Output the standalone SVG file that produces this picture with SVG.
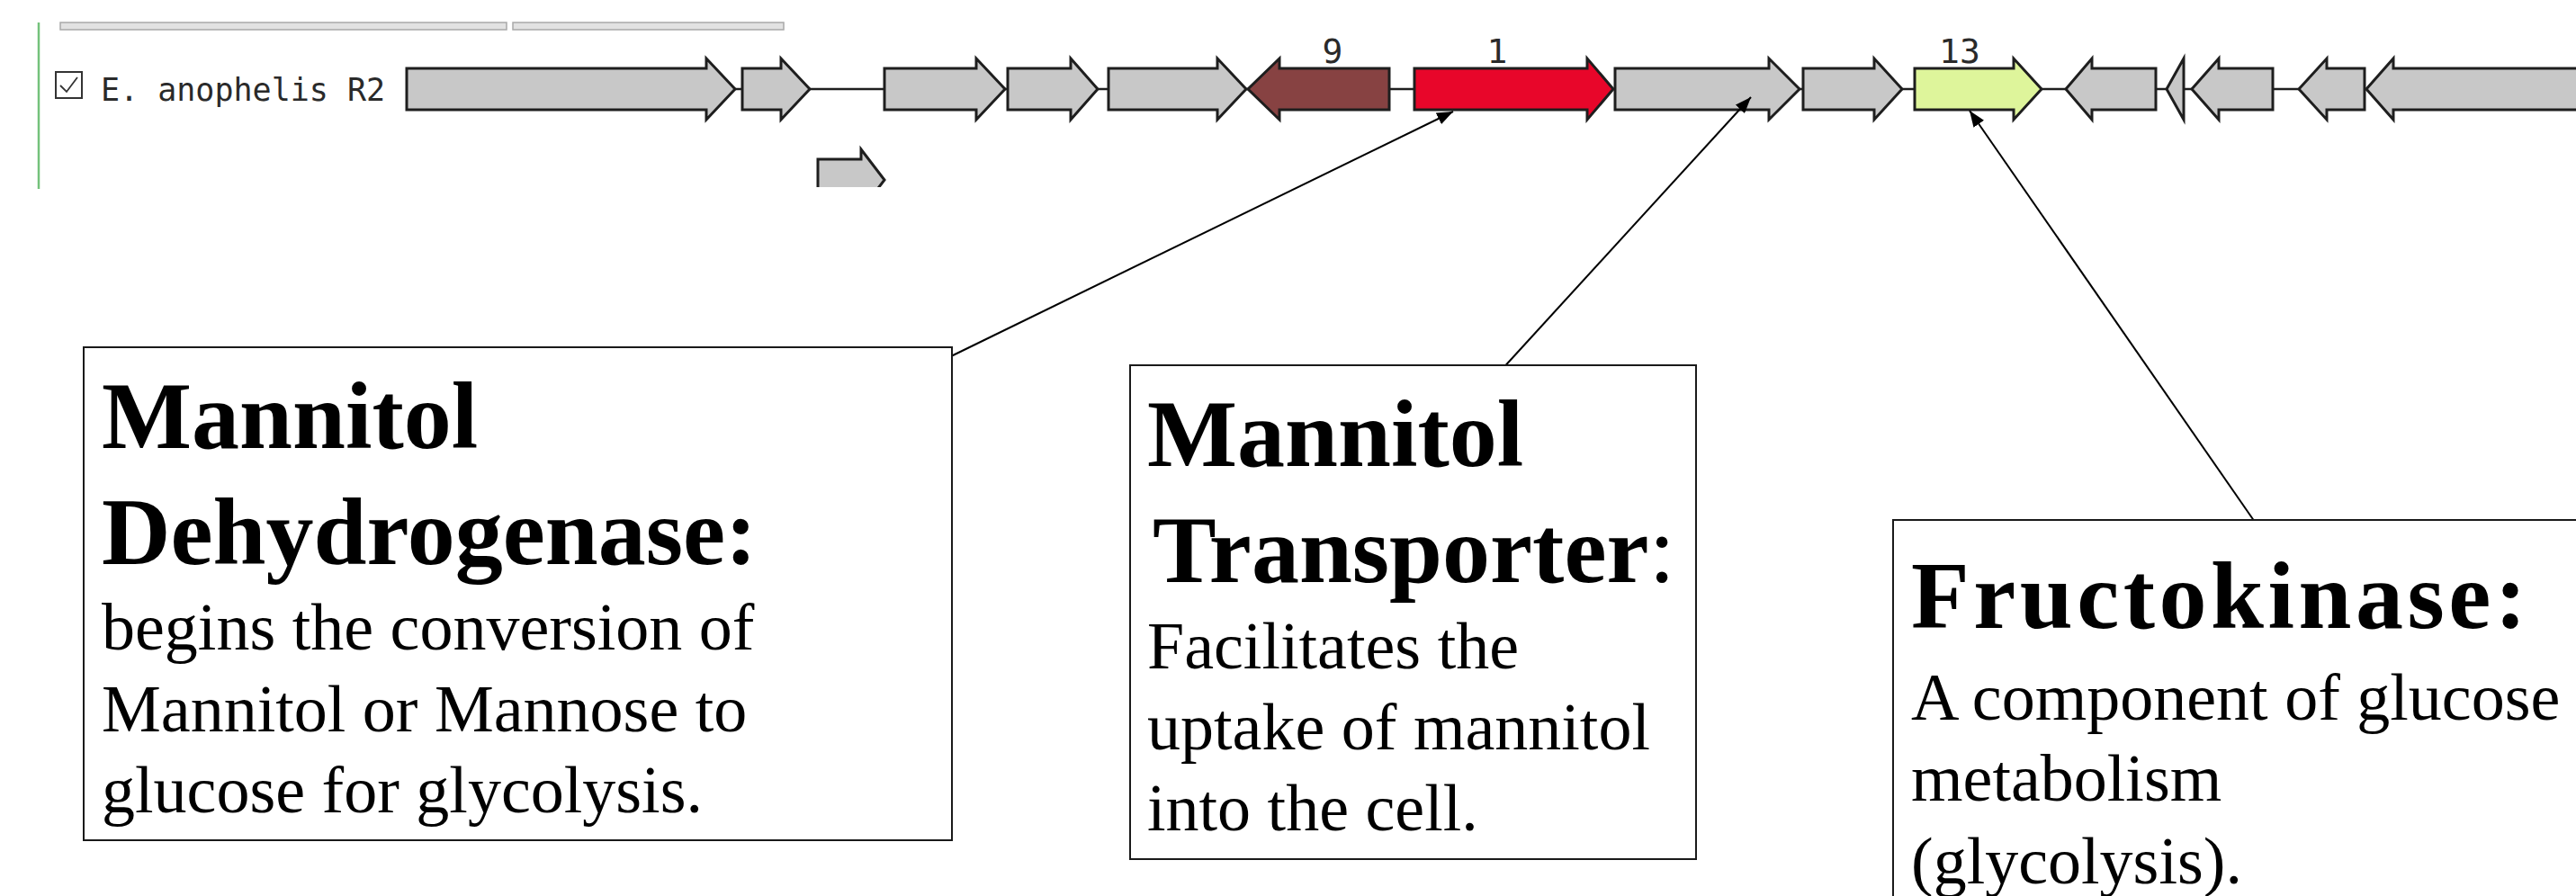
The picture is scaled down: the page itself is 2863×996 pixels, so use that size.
<svg xmlns="http://www.w3.org/2000/svg" width="2863" height="996" viewBox="0 0 2863 996">
  <style>
    .gene { stroke: #1e1e1e; stroke-width: 3; stroke-linejoin: miter; }
    .grey { fill: #c8c8c8; }
    .mono { font-family: "DejaVu Sans Mono", "Liberation Mono", monospace; font-size: 35px; fill: #2a2a2a; }
    .num { font-size: 38px; }
    .box { fill: #ffffff; stroke: #1a1a1a; stroke-width: 2; }
    .head { font-family: "Liberation Serif", "Times New Roman", serif; font-weight: bold; font-size: 106px; fill: #000; }
    .body { font-family: "Liberation Serif", "Times New Roman", serif; font-size: 74px; fill: #000; }
    .link { stroke: #000; stroke-width: 2; fill: none; }
  </style>
  <defs>
    <marker id="tip" markerUnits="userSpaceOnUse" markerWidth="20" markerHeight="14" refX="18" refY="7" orient="auto">
      <path d="M0,0 L18,7 L0,14 Z" fill="#000"/>
    </marker>
    <clipPath id="track-clip">
      <rect x="0" y="0" width="2863" height="208"/>
    </clipPath>
  </defs>

  <rect width="2863" height="996" fill="#ffffff"/>

  <!-- genome browser strip -->
  <g id="browser">
    <line x1="43" y1="25" x2="43" y2="210" stroke="#74c27b" stroke-width="2.5"/>
    <rect x="67" y="25" width="496" height="8" fill="#e2e2e2" stroke="#a9a9a9" stroke-width="1.5"/>
    <rect x="570" y="25" width="301" height="8" fill="#e2e2e2" stroke="#a9a9a9" stroke-width="1.5"/>
    <g id="track-label">
      <rect x="62" y="80" width="29" height="29" fill="#fff" stroke="#333" stroke-width="2"/>
      <path d="M67,95 L74,102 L86,86" fill="none" stroke="#333" stroke-width="1.8"/>
      <text class="mono" x="112" y="112">E. anophelis R2</text>
    </g>
  </g>

  <g id="track" clip-path="url(#track-clip)">
    <line x1="452" y1="99" x2="2863" y2="99" stroke="#1e1e1e" stroke-width="2.5"/>
    <!-- forward genes -->
    <path id="gene-a1" class="gene grey" d="M452,76 H785 V65 L817,99 L785,133 V122 H452 Z"/>
    <path id="gene-a2" class="gene grey" d="M825,76 H868 V65 L900,99 L868,133 V122 H825 Z"/>
    <path id="gene-a3" class="gene grey" d="M983,76 H1085 V65 L1117,99 L1085,133 V122 H983 Z"/>
    <path id="gene-a4" class="gene grey" d="M1120,76 H1190 V65 L1220,99 L1190,133 V122 H1120 Z"/>
    <path id="gene-a5" class="gene grey" d="M1232,76 H1353 V65 L1385,99 L1353,133 V122 H1232 Z"/>
    <path id="gene-9" class="gene" fill="#874242" d="M1544,76 H1422 V65 L1387,99 L1422,133 V122 H1544 Z"/>
    <path id="gene-1" class="gene" fill="#e8062a" d="M1572,76 H1764 V65 L1793,99 L1764,133 V122 H1572 Z"/>
    <path id="gene-a6" class="gene grey" d="M1795,76 H1966 V65 L2000,99 L1966,133 V122 H1795 Z"/>
    <path id="gene-a7" class="gene grey" d="M2004,76 H2083 V65 L2114,99 L2083,133 V122 H2004 Z"/>
    <path id="gene-13" class="gene" fill="#def59b" d="M2128,76 H2238 V65 L2269,99 L2238,133 V122 H2128 Z"/>
    <!-- reverse genes -->
    <path id="gene-r1" class="gene grey" d="M2396,76 H2325 V65 L2296,99 L2325,133 V122 H2396 Z"/>
    <path id="gene-r2" class="gene grey" d="M2427,65 L2408,99 L2427,133 Z"/>
    <path id="gene-r3" class="gene grey" d="M2526,76 H2466 V65 L2436,99 L2466,133 V122 H2526 Z"/>
    <path id="gene-r4" class="gene grey" d="M2628,76 H2586 V65 L2555,99 L2586,133 V122 H2628 Z"/>
    <path id="gene-r5" class="gene grey" d="M2880,76 H2660 V65 L2630,99 L2660,133 V122 H2880 Z"/>
    <!-- second row, partly cut off -->
    <path id="gene-b1" class="gene grey" d="M909,177 H957 V166 L983,200 L957,234 V223 H909 Z"/>
    <!-- cluster numbers -->
    <text class="mono num" x="1481" y="70" text-anchor="middle">9</text>
    <text class="mono num" x="1664" y="70" text-anchor="middle">1</text>
    <text class="mono num" x="2178" y="70" text-anchor="middle">13</text>
  </g>

  <!-- callouts -->
  <g id="connectors">
    <line class="link" x1="1055" y1="397" x2="1615" y2="124" marker-end="url(#tip)"/>
    <line class="link" x1="1668" y1="412" x2="1946" y2="108" marker-end="url(#tip)"/>
    <line class="link" x1="2508" y1="583" x2="2189" y2="123" marker-end="url(#tip)"/>
  </g>

  <g id="note-dehydrogenase">
    <rect class="box" x="93" y="386" width="965" height="548"/>
    <text class="head" x="113" y="498">Mannitol</text>
    <text class="head" x="113" y="627">Dehydrogenase:</text>
    <text class="body" x="113" y="722">begins the conversion of</text>
    <text class="body" x="113" y="813">Mannitol or Mannose to</text>
    <text class="body" x="113" y="903">glucose for glycolysis.</text>
  </g>

  <g id="note-transporter">
    <rect class="box" x="1256" y="406" width="629" height="549"/>
    <text class="head" x="1275" y="518">Mannitol</text>
    <text class="head" x="1281" y="647">Transporter<tspan font-weight="normal">:</tspan></text>
    <text class="body" x="1275" y="743">Facilitates the</text>
    <text class="body" x="1275" y="833">uptake of mannitol</text>
    <text class="body" x="1275" y="923">into the cell.</text>
  </g>

  <g id="note-fructokinase">
    <rect class="box" x="2104" y="578" width="800" height="460"/>
    <text class="head" x="2124" y="698" font-size="118" letter-spacing="4.5">Fructokinase:</text>
    <text class="body" x="2124" y="800">A component of glucose</text>
    <text class="body" x="2124" y="890">metabolism</text>
    <text class="body" x="2124" y="982">(glycolysis).</text>
  </g>
</svg>
